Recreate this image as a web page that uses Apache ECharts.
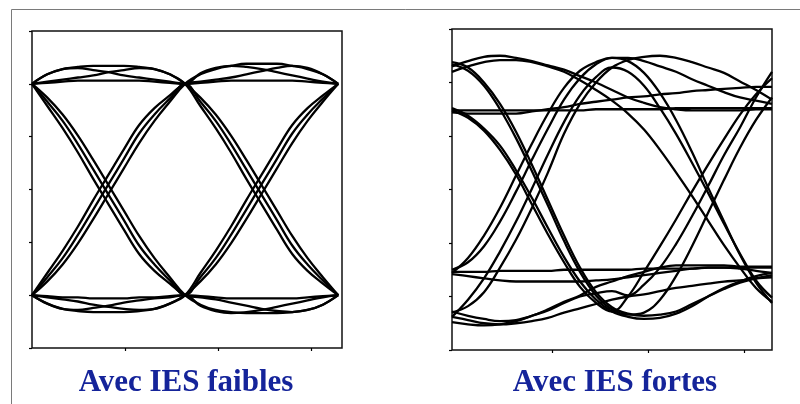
<!DOCTYPE html>
<html>
<head>
<meta charset="utf-8">
<script src="https://cdn.jsdelivr.net/npm/echarts@6/dist/echarts.min.js"></script>
<style>
  html, body { margin: 0; padding: 0; background: #ffffff; }
  #chart { width: 800px; height: 404px; }
</style>
</head>
<body>
<div id="chart"></div>
<script>
// Eye diagrams: time in bit periods, amplitude normalised to the ideal levels ±1.
// Sample times shared by every trace (two bit periods).
const timeWeak = [0, 0.1, 0.2, 0.3, 0.4, 0.5, 0.6, 0.7, 0.8, 0.9, 1,
                  1.1, 1.2, 1.3, 1.4, 1.5, 1.6, 1.7, 1.8, 1.9, 2];
const timeStrong = timeWeak;

// Weak intersymbol interference: all traces meet at the sampling instants.
const weak01 = [-1, -0.83, -0.65, -0.43, -0.19, 0.05, 0.29, 0.53, 0.71, 0.86, 1, 0.83, 0.65, 0.43, 0.19, -0.05, -0.29, -0.53, -0.71, -0.86, -1];
const weak02 = [-1, -0.87, -0.71, -0.51, -0.28, -0.04, 0.20, 0.44, 0.65, 0.83, 1, 1.09, 1.14, 1.17, 1.19, 1.19, 1.19, 1.17, 1.14, 1.09, 1];
const weak03 = [-1, -0.79, -0.58, -0.35, -0.10, 0.14, 0.38, 0.61, 0.77, 0.89, 1, 1.02, 1.04, 1.06, 1.09, 1.12, 1.15, 1.17, 1.15, 1.09, 1];
const weak04 = [1, 1.09, 1.14, 1.16, 1.17, 1.17, 1.17, 1.16, 1.14, 1.09, 1, 0.87, 0.71, 0.51, 0.28, 0.04, -0.20, -0.44, -0.65, -0.83, -1];
const weak05 = [1, 1.01, 1.02, 1.03, 1.03, 1.03, 1.03, 1.03, 1.02, 1.01, 1, 1.01, 1.02, 1.03, 1.03, 1.03, 1.03, 1.03, 1.02, 1.01, 1];
const weak06 = [1, 1.02, 1.04, 1.06, 1.08, 1.11, 1.13, 1.15, 1.14, 1.09, 1, 0.79, 0.58, 0.35, 0.10, -0.14, -0.38, -0.61, -0.77, -0.89, -1];
const weak07 = [1, 1.09, 1.14, 1.15, 1.13, 1.11, 1.08, 1.06, 1.04, 1.02, 1, 1.10, 1.15, 1.17, 1.16, 1.14, 1.11, 1.08, 1.05, 1.02, 1];
const weak08 = [1, 0.83, 0.65, 0.43, 0.19, -0.05, -0.29, -0.53, -0.71, -0.86, -1, -0.83, -0.65, -0.43, -0.19, 0.05, 0.29, 0.53, 0.71, 0.86, 1];
const weak09 = [1, 0.87, 0.71, 0.51, 0.28, 0.04, -0.20, -0.44, -0.65, -0.83, -1, -1.09, -1.14, -1.16, -1.17, -1.17, -1.17, -1.16, -1.14, -1.09, -1];
const weak10 = [1, 0.79, 0.58, 0.35, 0.10, -0.14, -0.38, -0.61, -0.77, -0.89, -1, -1.02, -1.04, -1.07, -1.10, -1.13, -1.15, -1.16, -1.14, -1.09, -1];
const weak11 = [-1, -1.08, -1.13, -1.15, -1.16, -1.16, -1.16, -1.15, -1.13, -1.08, -1, -0.87, -0.71, -0.51, -0.28, -0.04, 0.20, 0.44, 0.65, 0.83, 1];
const weak12 = [-1, -1.01, -1.02, -1.02, -1.03, -1.03, -1.03, -1.02, -1.02, -1.01, -1, -1.01, -1.02, -1.03, -1.03, -1.03, -1.03, -1.03, -1.02, -1.01, -1];
const weak13 = [-1, -1.02, -1.04, -1.06, -1.09, -1.11, -1.13, -1.14, -1.13, -1.08, -1, -0.79, -0.58, -0.35, -0.10, 0.14, 0.38, 0.61, 0.77, 0.89, 1];
const weak14 = [-1, -1.08, -1.13, -1.14, -1.12, -1.10, -1.07, -1.05, -1.03, -1.02, -1, -1.10, -1.15, -1.17, -1.16, -1.14, -1.11, -1.08, -1.05, -1.02, -1];

// Strong intersymbol interference: the levels spread and the eye closes.
const strong01 = [1.15, 1.20, 1.24, 1.25, 1.23, 1.20, 1.16, 1.12, 1.06, 1.00, 0.93, 0.86, 0.81, 0.77, 0.75, 0.74, 0.74, 0.74, 0.74, 0.75, 0.75];
const strong02 = [1.10, 1.15, 1.19, 1.21, 1.21, 1.19, 1.15, 1.10, 1.02, 0.93, 0.83, 0.71, 0.56, 0.37, 0.16, -0.06, -0.29, -0.52, -0.73, -0.92, -1.05];
const strong03 = [0.76, 0.69, 0.57, 0.41, 0.18, -0.08, -0.36, -0.63, -0.86, -1.03, -1.14, -1.19, -1.21, -1.20, -1.16, -1.09, -1.00, -0.92, -0.86, -0.81, -0.78];
const strong04 = [0.74, 0.67, 0.55, 0.37, 0.14, -0.14, -0.42, -0.68, -0.91, -1.06, -1.14, -1.00, -0.77, -0.53, -0.28, -0.02, 0.23, 0.47, 0.70, 0.89, 1.04];
const strong05 = [1.19, 1.14, 1.00, 0.80, 0.54, 0.23, -0.10, -0.43, -0.73, -0.96, -1.10, -1.16, -1.18, -1.17, -1.14, -1.07, -1.00, -0.93, -0.87, -0.83, -0.80];
const strong06 = [1.17, 1.11, 0.97, 0.75, 0.48, 0.17, -0.15, -0.48, -0.77, -0.99, -1.12, -1.17, -1.15, -1.03, -0.81, -0.53, -0.22, 0.09, 0.39, 0.65, 0.86];
const strong07 = [-0.78, -0.64, -0.43, -0.17, 0.13, 0.43, 0.71, 0.95, 1.11, 1.19, 1.23, 1.23, 1.20, 1.15, 1.10, 1.03, 0.97, 0.91, 0.86, 0.83, 0.80];
const strong08 = [-1.15, -1.09, -0.96, -0.73, -0.47, -0.17, 0.16, 0.52, 0.80, 1.00, 1.14, 1.21, 1.24, 1.25, 1.23, 1.19, 1.14, 1.09, 1.01, 0.93, 0.84];
const strong09 = [-1.19, -1.03, -0.83, -0.58, -0.30, 0.01, 0.33, 0.63, 0.88, 1.05, 1.14, 1.10, 0.97, 0.76, 0.52, 0.25, -0.03, -0.32, -0.60, -0.85, -1.01];
const strong10 = [-1.14, -1.18, -1.21, -1.23, -1.22, -1.18, -1.12, -1.05, -0.99, -0.91, -0.86, -0.81, -0.77, -0.73, -0.71, -0.71, -0.71, -0.71, -0.72, -0.72, -0.72];
const strong11 = [-1.19, -1.22, -1.25, -1.26, -1.25, -1.23, -1.20, -1.15, -1.11, -1.07, -1.03, -1.00, -0.98, -0.95, -0.92, -0.90, -0.88, -0.86, -0.85, -0.83, -0.82];
const strong12 = [-0.77, -0.77, -0.77, -0.76, -0.76, -0.76, -0.76, -0.75, -0.75, -0.75, -0.75, -0.75, -0.74, -0.74, -0.74, -0.74, -0.73, -0.73, -0.73, -0.73, -0.73];
const strong13 = [-0.79, -0.81, -0.83, -0.85, -0.86, -0.86, -0.86, -0.86, -0.86, -0.85, -0.84, -0.82, -0.80, -0.78, -0.76, -0.74, -0.73, -0.73, -0.74, -0.76, -0.78];
const strong14 = [0.74, 0.74, 0.74, 0.74, 0.74, 0.74, 0.74, 0.74, 0.74, 0.75, 0.75, 0.75, 0.75, 0.75, 0.76, 0.76, 0.76, 0.76, 0.76, 0.76, 0.76];
const strong15 = [0.72, 0.71, 0.71, 0.71, 0.71, 0.73, 0.75, 0.77, 0.80, 0.82, 0.84, 0.86, 0.87, 0.89, 0.90, 0.92, 0.93, 0.94, 0.95, 0.96, 0.96];
const strong16 = [-1.24, -1.26, -1.27, -1.26, -1.23, -1.18, -1.13, -1.06, -1.00, -0.97, -0.95, -0.99, -0.89, -0.73, -0.51, -0.25, 0.03, 0.32, 0.58, 0.86, 1.10];
const strong17 = [-0.75, -0.68, -0.53, -0.30, -0.02, 0.28, 0.57, 0.84, 1.04, 1.17, 1.23, 1.20, 1.09, 0.90, 0.65, 0.35, 0.02, -0.30, -0.61, -0.87, -1.06];

const weakTraces = [weak01, weak02, weak03, weak04, weak05, weak06, weak07,
                    weak08, weak09, weak10, weak11, weak12, weak13, weak14];
const strongTraces = [strong01, strong02, strong03, strong04, strong05, strong06,
                      strong07, strong08, strong09, strong10, strong11, strong12,
                      strong13, strong14, strong15, strong16, strong17];

// Tick positions along each frame.
const weakTimeTicks = [0.61, 1.215, 1.825];
const strongTimeTicks = [0.625, 1.225, 1.825];

const titleWeak = 'Avec IES faibles';
const titleStrong = 'Avec IES fortes';

const chart = echarts.init(document.getElementById('chart'), null, { renderer: 'canvas' });

function xAxisFor(gridIndex, max, ticks) {
  return {
    type: 'value', gridIndex, min: 0, max,
    axisLine: { show: false, onZero: false },
    splitLine: { show: false },
    axisLabel: { show: false },
    axisTick: { show: true, inside: false, length: 3, customValues: ticks,
                lineStyle: { color: '#000', width: 1.2 } }
  };
}
function yAxisFor(gridIndex) {
  return {
    type: 'value', gridIndex, min: -1.5, max: 1.5, interval: 0.5,
    axisLine: { show: false, onZero: false },
    splitLine: { show: false },
    axisLabel: { show: false },
    axisTick: { show: true, inside: false, length: 3,
                lineStyle: { color: '#000', width: 1.2 } }
  };
}
function traceSeries(traces, times, axisIndex, width) {
  return traces.map((values) => ({
    type: 'line', xAxisIndex: axisIndex, yAxisIndex: axisIndex,
    data: times.map((t, i) => [t, values[i]]),
    smooth: 0.4, symbol: 'none', silent: true, animation: false,
    lineStyle: { color: '#000', width }
  }));
}

chart.setOption({
  animation: false,
  backgroundColor: '#ffffff',
  grid: [
    { left: 32, top: 31, width: 310, height: 317, show: true,
      borderColor: '#111', borderWidth: 1.5, backgroundColor: '#fff' },
    { left: 452, top: 29, width: 320, height: 321, show: true,
      borderColor: '#111', borderWidth: 1.5, backgroundColor: '#fff' }
  ],
  xAxis: [xAxisFor(0, 2.025, weakTimeTicks), xAxisFor(1, 2.0, strongTimeTicks)],
  yAxis: [yAxisFor(0), yAxisFor(1)],
  series: [
    ...traceSeries(weakTraces, timeWeak, 0, 2.3),
    ...traceSeries(strongTraces, timeStrong, 1, 2.3)
  ],
  graphic: [
    { type: 'polyline', silent: true,
      shape: { points: [[11.5, 404], [11.5, 9.5], [800, 9.5]] },
      style: { stroke: '#7a7a7a', lineWidth: 1, fill: null } },
    { type: 'text', x: 186, y: 383, silent: true,
      style: { text: titleWeak, textAlign: 'center', textVerticalAlign: 'middle',
               fontFamily: 'Liberation Serif', fontWeight: 'bold', fontSize: 31, fill: '#15249a' } },
    { type: 'text', x: 615, y: 383, silent: true,
      style: { text: titleStrong, textAlign: 'center', textVerticalAlign: 'middle',
               fontFamily: 'Liberation Serif', fontWeight: 'bold', fontSize: 31, fill: '#15249a' } }
  ]
});
</script>
</body>
</html>
